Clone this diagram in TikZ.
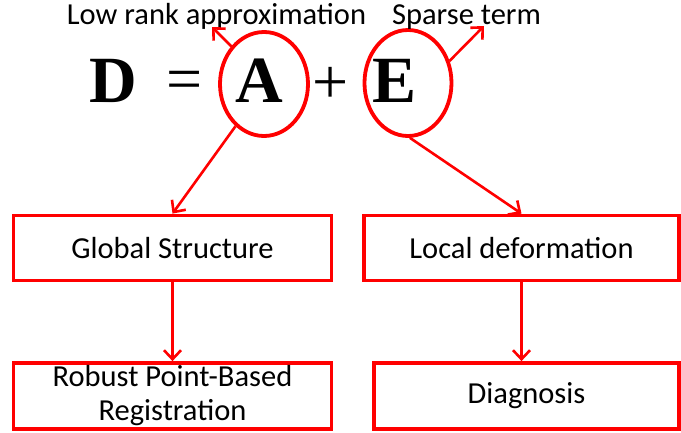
\documentclass[tikz,border=0pt]{standalone}
\usepackage{fontspec}
\setmainfont{Carlito}
\newfontfamily\eqfont{Liberation Serif}[BoldFont={Liberation Serif Bold}]
\usetikzlibrary{arrows.meta,shapes.geometric}
\begin{document}
\begin{tikzpicture}[x=1pt,y=-1pt,
  lbl/.style={font=\fontsize{30.5}{36}\selectfont, inner sep=0pt},
  bigsym/.style={font=\eqfont\bfseries\fontsize{66}{70}\selectfont, inner sep=0pt},
  opsym/.style={font=\eqfont\fontsize{64}{70}\selectfont, inner sep=0pt},
  ring/.style={ellipse, draw=red, line width=3.8pt, inner sep=0pt},
  box/.style={rectangle, draw=red, line width=3.8pt, inner sep=0pt,
    font=\fontsize{30.5}{34}\selectfont, align=center},
  link/.style={draw=red, line width=2.6pt,
    -{Straight Barb[length=9pt,width=17pt,line width=2.6pt]}}]
\useasboundingbox (0,0) rectangle (681,432);

% equation D = A + E
\node[bigsym, anchor=base] (d) at (113,102) {D};
\node[opsym] (eq) at (185,86) {=};
\node[bigsym, anchor=base] (a) at (259.5,102) {A};
\node[opsym] (plus) at (331,85) {+};
\node[bigsym, anchor=base] (e) at (395,102) {E};

% circled terms
\node[ring, minimum width=88pt, minimum height=104pt] (ea) at (264,84) {};
\node[ring, minimum width=87pt, minimum height=106pt] (ee) at (408,83) {};

% annotations
\node[lbl, anchor=base] (low) at (216.5,24) {Low rank approximation};
\node[lbl, anchor=base] (sparse) at (466.5,24) {Sparse term};
\coordinate (lowtip) at (212,27);
\coordinate (sparsetip) at (484,26);

% boxes
\node[box, minimum width=318pt, minimum height=65pt] (gs) at (172.5,248) {Global Structure};
\node[box, minimum width=315pt, minimum height=65pt] (ld) at (521.5,248) {Local deformation};
\node[box, minimum width=318pt, minimum height=66pt] (rb) at (172.5,396) {Robust Point-Based\\Registration};
\node[box, minimum width=305pt, minimum height=66pt] (dg) at (526.5,396) {Diagnosis};

% connectors
\draw[link] (ea.131) -- (lowtip);
\draw[link] (ee.28) -- (sparsetip);
\draw[link] (ea.236) -- (gs.north);
\draw[link] (ee.272) -- (ld.north);
\draw[link] (gs.south) -- (rb.north);
\draw[link] (ld.south) -- (ld.south |- dg.north);
\end{tikzpicture}
\end{document}
